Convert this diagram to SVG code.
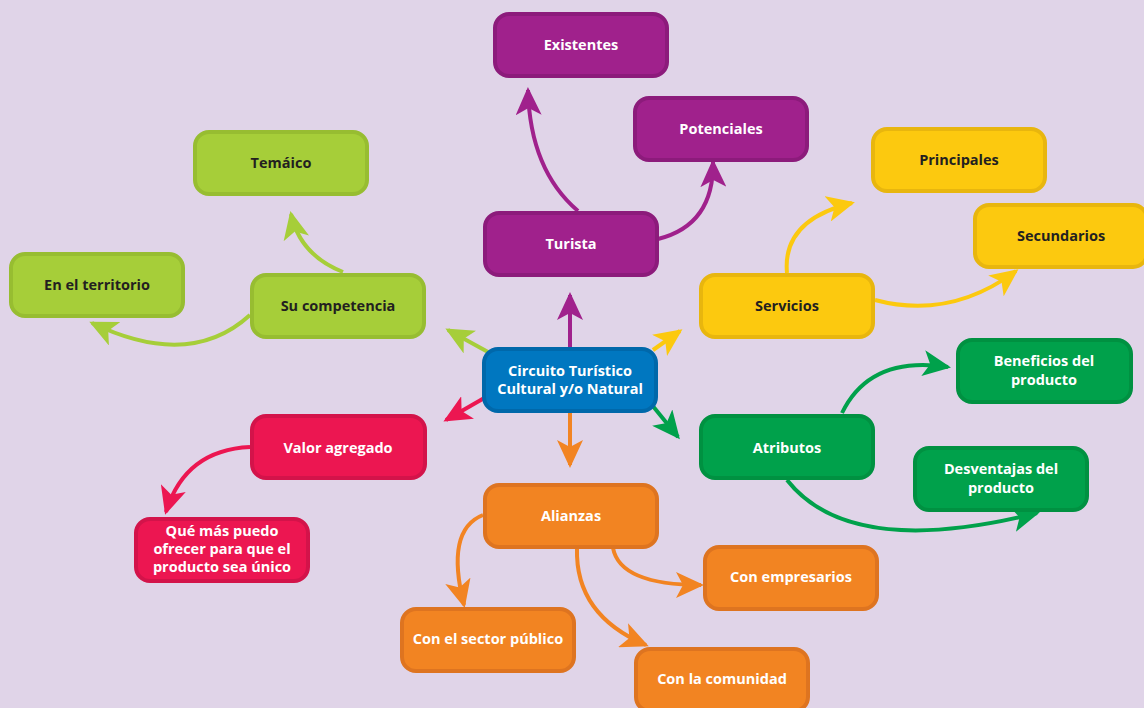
<svg xmlns="http://www.w3.org/2000/svg" width="1144" height="708" viewBox="0 0 1144 708">
<style>
.n rect{stroke-width:4}
.t{font-family:"Open Sans","Noto Sans","Liberation Sans",sans-serif;font-weight:bold;font-size:14.5px;text-anchor:middle}
.w{fill:#ffffff}.d{fill:#231f20}
.pu rect{fill:#a0218c;stroke:#8c1b7b}
.li rect{fill:#a6ce39;stroke:#97bd31}
.bl rect{fill:#0077c0;stroke:#0068aa}
.re rect{fill:#ec1651;stroke:#d3134a}
.or rect{fill:#f28422;stroke:#de7420}
.ye rect{fill:#fcc90f;stroke:#e8b60e}
.gr rect{fill:#00a14b;stroke:#009141}
.c path{fill:none;stroke-width:4}
</style>
<defs>
<marker id="mpu" viewBox="0 0 28 26" markerWidth="28" markerHeight="26" refX="25" refY="13" orient="auto" markerUnits="userSpaceOnUse"><path d="M0,0 L28,13 L0,26 L7,13 z" fill="#a0218c"/></marker>
<marker id="mli" viewBox="0 0 28 26" markerWidth="28" markerHeight="26" refX="25" refY="13" orient="auto" markerUnits="userSpaceOnUse"><path d="M0,0 L28,13 L0,26 L7,13 z" fill="#a6ce39"/></marker>
<marker id="mre" viewBox="0 0 28 26" markerWidth="28" markerHeight="26" refX="25" refY="13" orient="auto" markerUnits="userSpaceOnUse"><path d="M0,0 L28,13 L0,26 L7,13 z" fill="#ec1651"/></marker>
<marker id="mor" viewBox="0 0 28 26" markerWidth="28" markerHeight="26" refX="25" refY="13" orient="auto" markerUnits="userSpaceOnUse"><path d="M0,0 L28,13 L0,26 L7,13 z" fill="#f28422"/></marker>
<marker id="mye" viewBox="0 0 28 26" markerWidth="28" markerHeight="26" refX="25" refY="13" orient="auto" markerUnits="userSpaceOnUse"><path d="M0,0 L28,13 L0,26 L7,13 z" fill="#fcc90f"/></marker>
<marker id="mgr" viewBox="0 0 28 26" markerWidth="28" markerHeight="26" refX="25" refY="13" orient="auto" markerUnits="userSpaceOnUse"><path d="M0,0 L28,13 L0,26 L7,13 z" fill="#00a14b"/></marker>
</defs>
<rect x="0" y="0" width="1144" height="708" fill="#e0d4e8"/>
<g id="connectors" class="c">
<path d="M570,347 L570,295" stroke="#a0218c" marker-end="url(#mpu)"/>
<path d="M488,352 L448,330" stroke="#a6ce39" marker-end="url(#mli)"/>
<path d="M653,350 L680,331" stroke="#fcc90f" marker-end="url(#mye)"/>
<path d="M486,397 L446,420" stroke="#ec1651" marker-end="url(#mre)"/>
<path d="M570,413 L570,465" stroke="#f28422" marker-end="url(#mor)"/>
<path d="M652,405 L678,437" stroke="#00a14b" marker-end="url(#mgr)"/>
<path d="M578,211 Q530,170 528,90" stroke="#a0218c" marker-end="url(#mpu)"/>
<path d="M658,239 Q714,225 713,162" stroke="#a0218c" marker-end="url(#mpu)"/>
<path d="M343,272 Q300,255 291,214" stroke="#a6ce39" marker-end="url(#mli)"/>
<path d="M250,315 Q190,370 92,323" stroke="#a6ce39" marker-end="url(#mli)"/>
<path d="M250,447 Q185,450 166,512" stroke="#ec1651" marker-end="url(#mre)"/>
<path d="M787,273 Q782,220 852,203" stroke="#fcc90f" marker-end="url(#mye)"/>
<path d="M875,300 Q950,320 1016,271" stroke="#fcc90f" marker-end="url(#mye)"/>
<path d="M842,413 Q870,355 948,367" stroke="#00a14b" marker-end="url(#mgr)"/>
<path d="M787,480 Q850,560 1037,513" stroke="#00a14b" marker-end="url(#mgr)"/>
<path d="M483,515 Q445,530 464,605" stroke="#f28422" marker-end="url(#mor)"/>
<path d="M613,548 Q620,585 701,585" stroke="#f28422" marker-end="url(#mor)"/>
<path d="M577,548 Q575,615 646,645" stroke="#f28422" marker-end="url(#mor)"/>
</g>
<g id="existentes" class="n pu"><rect x="495" y="14" width="172" height="62" rx="14"/><text class="t w" x="581" y="50">Existentes</text></g>
<g id="potenciales" class="n pu"><rect x="635" y="98" width="172" height="62" rx="14"/><text class="t w" x="721" y="134">Potenciales</text></g>
<g id="turista" class="n pu"><rect x="485" y="213" width="172" height="62" rx="14"/><text class="t w" x="571" y="249">Turista</text></g>
<g id="tematico" class="n li"><rect x="195" y="132" width="172" height="62" rx="14"/><text class="t d" x="281" y="168">Temáico</text></g>
<g id="territorio" class="n li"><rect x="11" y="254" width="172" height="62" rx="14"/><text class="t d" x="97" y="290">En el territorio</text></g>
<g id="competencia" class="n li"><rect x="252" y="275" width="172" height="62" rx="14"/><text class="t d" x="338" y="311">Su competencia</text></g>
<g id="centro" class="n bl"><rect x="484" y="349" width="172" height="62" rx="14"/><text class="t w" x="570" y="376">Circuito Turístico</text><text class="t w" x="570" y="394">Cultural y/o Natural</text></g>
<g id="valor" class="n re"><rect x="252" y="416" width="173" height="62" rx="14"/><text class="t w" x="338" y="453">Valor agregado</text></g>
<g id="unico" class="n re"><rect x="136" y="519" width="172" height="62" rx="14"/><text class="t w" x="222" y="536">Qué más puedo</text><text class="t w" x="222" y="554">ofrecer para que el</text><text class="t w" x="222" y="572">producto sea único</text></g>
<g id="servicios" class="n ye"><rect x="701" y="275" width="172" height="62" rx="14"/><text class="t d" x="787" y="311">Servicios</text></g>
<g id="principales" class="n ye"><rect x="873" y="129" width="172" height="62" rx="14"/><text class="t d" x="959" y="165">Principales</text></g>
<g id="secundarios" class="n ye"><rect x="975" y="205" width="172" height="62" rx="14"/><text class="t d" x="1061" y="241">Secundarios</text></g>
<g id="atributos" class="n gr"><rect x="701" y="416" width="172" height="62" rx="14"/><text class="t w" x="787" y="453">Atributos</text></g>
<g id="beneficios" class="n gr"><rect x="958" y="340" width="173" height="62" rx="14"/><text class="t w" x="1044" y="366">Beneficios del</text><text class="t w" x="1044" y="385">producto</text></g>
<g id="desventajas" class="n gr"><rect x="915" y="448" width="172" height="62" rx="14"/><text class="t w" x="1001" y="474">Desventajas del</text><text class="t w" x="1001" y="493">producto</text></g>
<g id="alianzas" class="n or"><rect x="485" y="485" width="172" height="62" rx="14"/><text class="t w" x="571" y="521">Alianzas</text></g>
<g id="empresarios" class="n or"><rect x="705" y="547" width="172" height="62" rx="14"/><text class="t w" x="791" y="582">Con empresarios</text></g>
<g id="publico" class="n or"><rect x="402" y="609" width="172" height="62" rx="14"/><text class="t w" x="488" y="644">Con el sector público</text></g>
<g id="comunidad" class="n or"><rect x="636" y="649" width="172" height="62" rx="14"/><text class="t w" x="722" y="684">Con la comunidad</text></g>
</svg>
